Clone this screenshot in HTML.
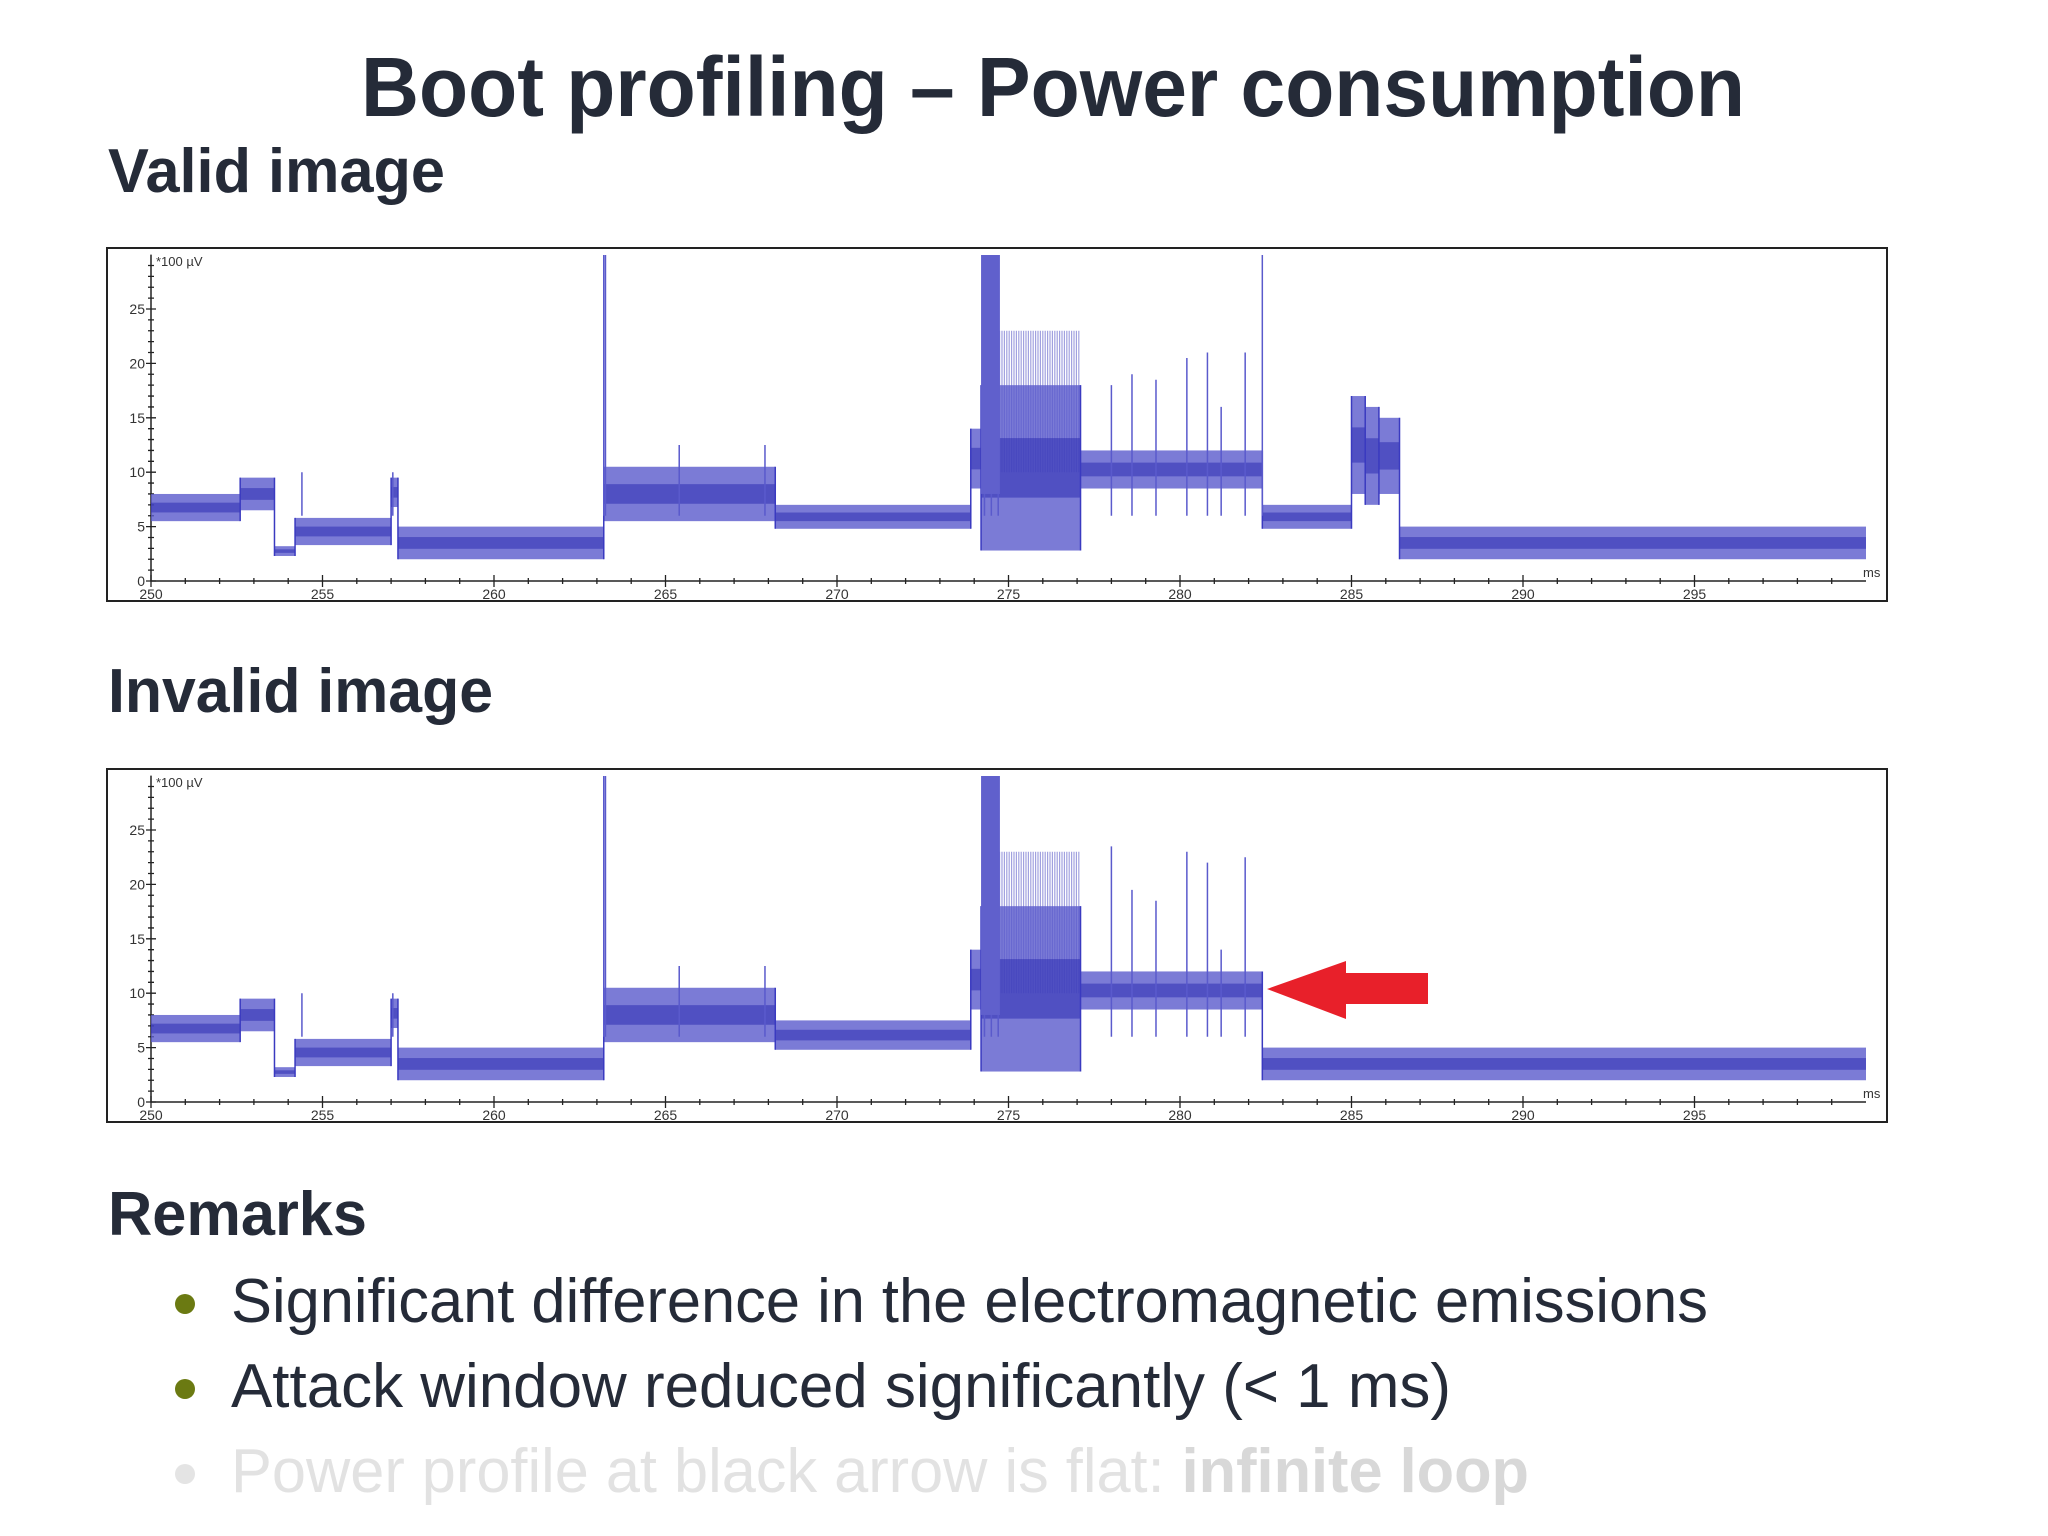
<!DOCTYPE html>
<html><head><meta charset="utf-8"><style>
html,body{margin:0;padding:0;background:#fff;}
svg{display:block;}
</style></head><body>
<svg id="s" width="2048" height="1536" viewBox="0 0 2048 1536" xmlns="http://www.w3.org/2000/svg" font-family="Liberation Sans, sans-serif">
<text x="1053" y="116" text-anchor="middle" font-size="84" font-weight="bold" fill="#252b38" textLength="1384" lengthAdjust="spacingAndGlyphs">Boot profiling – Power consumption</text>
<text x="108" y="192" font-size="62" font-weight="bold" fill="#252b38" textLength="337" lengthAdjust="spacingAndGlyphs">Valid image</text>
<text x="108" y="712" font-size="62" font-weight="bold" fill="#252b38" textLength="385" lengthAdjust="spacingAndGlyphs">Invalid image</text>
<text x="108" y="1235" font-size="62" font-weight="bold" fill="#252b38" textLength="259" lengthAdjust="spacingAndGlyphs">Remarks</text>
<circle cx="185" cy="1304" r="10" fill="#6b7a12"/>
<text x="231" y="1322" font-size="62" fill="#252b38" textLength="1477" lengthAdjust="spacingAndGlyphs">Significant difference in the electromagnetic emissions</text>
<circle cx="185" cy="1389" r="10" fill="#6b7a12"/>
<text x="231" y="1407" font-size="62" fill="#252b38" textLength="1220" lengthAdjust="spacingAndGlyphs">Attack window reduced significantly (&lt; 1 ms)</text>
<circle cx="185" cy="1474" r="10" fill="#e4e4e4"/>
<text x="231" y="1492" font-size="62" fill="#e2e2e2" textLength="1298" lengthAdjust="spacingAndGlyphs">Power profile at black arrow is flat: <tspan font-weight="bold" fill="#d8d8d8">infinite loop</tspan></text>
<g id="c1"></g>
<g id="c2" transform="translate(0,521)"></g>
<path d="M1267,989 L1346,961 L1346,973 L1428,973 L1428,1004 L1346,1004 L1346,1019 Z" fill="#e8202a"/>
</svg>
<script>
// segment data: [start ms, end ms, low, high] (units *100 µV)
const validStart=[250,252.6,253.6,254.2,257.0,257.2,263.2,268.2,273.9,274.2,277.1,282.4,285.0,285.4,285.8,286.4];
const validEnd  =[252.6,253.6,254.2,257.0,257.2,263.2,268.2,273.9,274.2,277.1,282.4,285.0,285.4,285.8,286.4,300];
const validLow  =[5.5,6.5,2.3,3.3,6.8,2.0,5.5,4.8,8.5,2.8,8.5,4.8,8,7,8,2.0];
const validHigh =[8.0,9.5,3.2,5.8,9.5,5.0,10.5,7.0,14,18,12.0,7.0,17,16,15,5.0];
const invalidStart=[250,252.6,253.6,254.2,257.0,257.2,263.2,268.2,273.9,274.2,277.1,282.4];
const invalidEnd  =[252.6,253.6,254.2,257.0,257.2,263.2,268.2,273.9,274.2,277.1,282.4,300];
const invalidLow  =[5.5,6.5,2.3,3.3,6.8,2.0,5.5,4.8,8.5,2.8,8.5,2.0];
const invalidHigh =[8.0,9.5,3.2,5.8,9.5,5.0,10.5,7.5,14,18,12.0,5.0];
// spikes: time ms, peak value
const validSpikeT=[254.4,257.05,263.2,263.25,274.3,274.5,274.7,282.4,278.0,278.6,279.3,280.2,280.8,281.2,281.9,265.4,267.9];
const validSpikeV=[10,10,30,30,30,30,30,30,18,19,18.5,20.5,21,16,21,12.5,12.5];
const invalidSpikeT=[254.4,257.05,263.2,263.25,274.3,274.5,274.7,278.0,278.6,279.3,280.2,280.8,281.2,281.9,265.4,267.9];
const invalidSpikeV=[10,10,30,30,30,30,30,23.5,19.5,18.5,23,22,14,22.5,12.5,12.5];
// light comb region 274.6-277.1 top
const combTop=[23,23];
const yTicks=[0,5,10,15,20,25];
const xTicks=[250,255,260,265,270,275,280,285,290,295];

const NS='http://www.w3.org/2000/svg';
const X0=151,PXMS=34.3,Y0=581,PXU=10.88;
const sx=t=>X0+(t-250)*PXMS, sy=v=>Y0-v*PXU;
function el(g,tag,a){const e=document.createElementNS(NS,tag);for(const k in a)e.setAttribute(k,a[k]);g.appendChild(e);return e;}
function draw(gid,st,en,lo,hi,spT,spV,isValid){
  const g=document.getElementById(gid);
  const box=el(g,'rect',{x:107,y:248,width:1780,height:353,fill:'#fff',stroke:'#222','stroke-width':2});
  
  
  const ax=el(g,'path',{d:`M${X0},${sy(30)}V${Y0}H${sx(300)}`,stroke:'#222','stroke-width':1.5,fill:'none'});
  
  
  let d='';
  for(let v=0;v<=29;v++){const w=v%5==0?5:3;d+=`M${X0-w},${sy(v)}H${X0+w}`;}
  for(let t=250;t<300;t++){const w=t%5==0?6:3;d+=`M${sx(t)},${Y0-w}V${Y0+w}`;}
  const tk=el(g,'path',{d,stroke:'#222','stroke-width':1.3});
  
  
  yTicks.forEach(v=>{const t=el(g,'text',{x:X0-6,y:sy(v)+5,'font-size':14,'text-anchor':'end',fill:'#333'});t.textContent=v;
    
    });
  xTicks.forEach(v=>{const t=el(g,'text',{x:sx(v),y:Y0+18,'font-size':14,'text-anchor':'middle',fill:'#333'});t.textContent=v;
    
    });
  const u=el(g,'text',{x:X0+5,y:266,'font-size':13,fill:'#333'});u.textContent='*100 µV';
  
  
  const ms=el(g,'text',{x:1863,y:577,'font-size':13,fill:'#333'});ms.textContent='ms';
  
  
  // light comb
  let cd='';for(let t=274.6;t<277.1;t+=0.07){cd+=`M${sx(t)},${sy(combTop[0])}V${sy(10)}`;}
  const cb=el(g,'path',{d:cd,stroke:'#8a8ad8','stroke-width':1.2,opacity:0.8});
  
  
  // bands
  let line='';
  for(let i=0;i<st.length;i++){
    const r=el(g,'rect',{x:sx(st[i]),y:sy(hi[i]),width:sx(en[i])-sx(st[i]),height:(hi[i]-lo[i])*PXU,fill:'#5a5acc',opacity:0.8});
    
    
    const m=(lo[i]+hi[i])/2;
    const core=el(g,'rect',{x:sx(st[i]),y:sy(m+(hi[i]-lo[i])*0.18),width:sx(en[i])-sx(st[i]),height:(hi[i]-lo[i])*0.36*PXU,fill:'#3434b4',opacity:0.6});
    
    
    if(i>0) line+=`M${sx(st[i])},${sy(Math.min(lo[i],lo[i-1]))}V${sy(Math.max(hi[i],hi[i-1]))}`;
  }
  const tr=el(g,'path',{d:line,stroke:'#3a3ac0','stroke-width':1.5});
  
  
  let sd='';
  for(let i=0;i<spT.length;i++) sd+=`M${sx(spT[i])},${sy(6)}V${Math.max(sy(spV[i]),255)}`;
  const sp=el(g,'path',{d:sd,stroke:'#5a5acc','stroke-width':1.5});
  
  
  const bl=el(g,'rect',{x:sx(274.2),y:255,width:sx(274.75)-sx(274.2),height:sy(8)-255,fill:'#6060cc'});
  
  
}
draw('c1',validStart,validEnd,validLow,validHigh,validSpikeT,validSpikeV,true);
draw('c2',invalidStart,invalidEnd,invalidLow,invalidHigh,invalidSpikeT,invalidSpikeV,false);
</script>
</body></html>
